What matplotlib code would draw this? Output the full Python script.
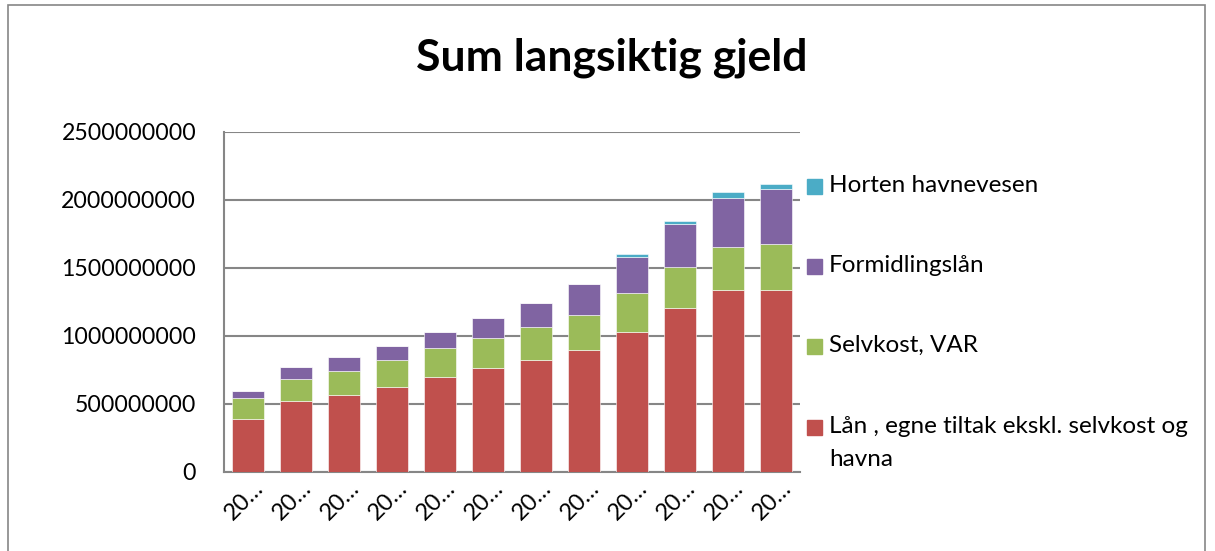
import matplotlib
matplotlib.use("Agg")
import matplotlib.pyplot as plt
from matplotlib.patches import Rectangle
from matplotlib.ticker import FuncFormatter, MultipleLocator
from matplotlib.transforms import ScaledTranslation

plt.rcParams['font.family'] = ['Lato', 'DejaVu Sans']

# Data (NOK)
categories = ["20\u2026"] * 12
laan = [390e6, 524e6, 566e6, 627e6, 696e6, 762e6, 824e6, 895e6, 1032e6, 1208e6, 1338e6, 1338e6]
selvkost = [154e6, 160e6, 177e6, 197e6, 213e6, 226e6, 242e6, 259e6, 282e6, 299e6, 316e6, 336e6]
formidling = [52e6, 86e6, 103e6, 102e6, 120e6, 147e6, 174e6, 226e6, 264e6, 317e6, 363e6, 404e6]
havn = [0, 0, 0, 0, 0, 0, 0, 0, 25e6, 22e6, 42e6, 42e6]

series = [laan, selvkost, formidling, havn]
labels = ["Lån , egne tiltak ekskl. selvkost og\nhavna", "Selvkost, VAR",
          "Formidlingslån", "Horten havnevesen"]
colors = ["#C0504D", "#9BBB59", "#8064A2", "#4BACC6"]

fig = plt.figure(figsize=(12.15, 5.51), dpi=100)
ax = fig.add_axes([224 / 1215, 1 - 472 / 551, 576 / 1215, 340 / 551])

x = list(range(len(categories)))
bottom = [0] * len(categories)
for vals, c in zip(series, colors):
    ax.bar(x, vals, width=0.65, bottom=bottom, color=c, edgecolor="white",
           linewidth=0.4, zorder=3)
    bottom = [b + v for b, v in zip(bottom, vals)]

ax.set_xlim(-0.5, len(categories) - 0.5)
ax.set_ylim(0, 2.5e9)
ax.yaxis.set_major_locator(MultipleLocator(5e8))
ax.yaxis.set_major_formatter(FuncFormatter(lambda v, p: "%d" % v))
ax.grid(axis="y", color="#868686", linewidth=1.5, zorder=0)
for s in ["top", "right"]:
    ax.spines[s].set_visible(False)
for s in ["left", "bottom"]:
    ax.spines[s].set_color("#868686")
    ax.spines[s].set_linewidth(1.5)
ax.tick_params(axis="y", labelsize=16.7, length=0, pad=20)
ax.tick_params(axis="x", labelsize=17, length=0, pad=4)
ax.set_xticks(x)
ax.set_xticklabels(categories, rotation=45, ha="right", va="top", rotation_mode="anchor")
shift = ScaledTranslation(5 / 100, 0, fig.dpi_scale_trans)
for t in ax.get_xticklabels():
    t.set_transform(t.get_transform() + shift)

fig.text(612 / 1215, 1 - 58 / 551, "Sum langsiktig gjeld", fontsize=32,
         fontweight="bold", ha="center", va="center")

# legend drawn by hand (Excel style), top entry is the last series
leg_y = [186, 266, 346, 427]
for lab, c, yy in zip(labels[::-1], colors[::-1], leg_y):
    fig.patches.append(Rectangle((807 / 1215, 1 - (yy + 8) / 551), 15 / 1215, 15 / 551,
                                 transform=fig.transFigure, color=c))
    fig.text(829 / 1215, 1 - (yy - 11) / 551, lab, fontsize=17.5, ha="left", va="top",
             linespacing=1.7)

# chart border
fig.patches.append(Rectangle((8 / 1215, -0.05), 1197 / 1215, 1.05 - 5 / 551,
                             transform=fig.transFigure, fill=False,
                             edgecolor="#868686", linewidth=1.2))

fig.savefig("out.png", dpi=100)
